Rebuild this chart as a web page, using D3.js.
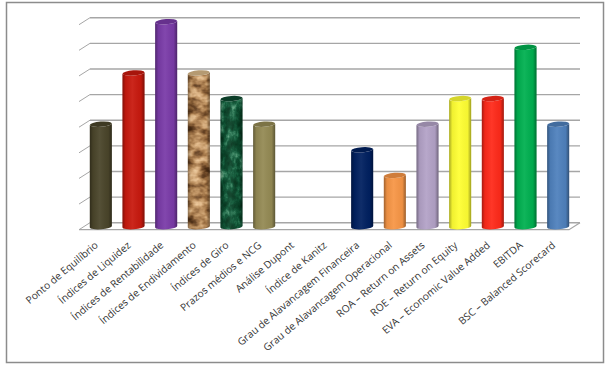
<!DOCTYPE html>
<html>
<head>
<meta charset="utf-8">
<script src="https://cdn.jsdelivr.net/npm/d3@7"></script>
<style>
    html, body { margin: 0; padding: 0; background: #fff; }
    svg { display: block; }
    text { font-family: "Open Sans", sans-serif; }
</style>
</head>
<body>
<div id="chart"></div>
<script>
var categories = ["Ponto de Equilíbrio", "Índices de Liquidez", "Índices de Rentabilidade",
    "Índices de Endividamento", "Índices de Giro", "Prazos médios e NCG", "Análise Dupont",
    "Índice de Kanitz", "Grau de Alavancagem Financeira", "Grau de Alavancagem Operacional",
    "ROA – Return on Assets", "ROE – Return on Equity", "EVA – Economic Value Added",
    "EBITDA", "BSC – Balanced Scorecard"];
var values = [4, 6, 8, 6, 5, 4, 0, 0, 3, 2, 4, 5, 5, 7, 4];
var barColors = ["#4a452a", "#c8190e", "#7a3ba8", "rock", "marble", "#948a54", "#000", "#000",
    "#002060", "#f79646", "#b3a2c7", "#ffff33", "#ff2a1a", "#00b050", "#4f81bd"];
var yTicks = [0, 1, 2, 3, 4, 5, 6, 7, 8];

var width = 609, height = 368;
var depthX = 11, depthY = 7;   // the 3d floor offset, back wall vs front edge
var left = 79, right = 569;
var barWidth = 22;

var svg = d3.select("#chart").append("svg")
    .attr("width", width)
    .attr("height", height);

var defs = svg.append("defs");

// shading across the cylinder
var shade = defs.append("linearGradient").attr("id", "shade");
shade.append("stop").attr("offset", "0%").attr("stop-color", "#000").attr("stop-opacity", 0.35);
shade.append("stop").attr("offset", "14%").attr("stop-color", "#000").attr("stop-opacity", 0.06);
shade.append("stop").attr("offset", "45%").attr("stop-color", "#fff").attr("stop-opacity", 0.06);
shade.append("stop").attr("offset", "84%").attr("stop-color", "#000").attr("stop-opacity", 0.04);
shade.append("stop").attr("offset", "100%").attr("stop-color", "#000").attr("stop-opacity", 0.38);

// rock texture
var rock = defs.append("filter").attr("id", "rock")
    .attr("color-interpolation-filters", "sRGB")
    .attr("x", 0).attr("y", 0).attr("width", 1).attr("height", 1);
rock.append("feTurbulence").attr("type", "fractalNoise").attr("baseFrequency", "0.08 0.12")
    .attr("numOctaves", 3).attr("seed", 7).attr("result", "n");
rock.append("feColorMatrix").attr("in", "n").attr("type", "matrix")
    .attr("values", "1 0 0 0 0  1 0 0 0 0  1 0 0 0 0  0 0 0 0 1").attr("result", "g");
var rockT = rock.append("feComponentTransfer").attr("in", "g").attr("result", "c");
rockT.append("feFuncR").attr("type", "table").attr("tableValues", "0.25 0.3 0.42 0.62 0.78 0.9 0.95 0.96");
rockT.append("feFuncG").attr("type", "table").attr("tableValues", "0.15 0.18 0.27 0.44 0.6 0.74 0.82 0.86");
rockT.append("feFuncB").attr("type", "table").attr("tableValues", "0.06 0.08 0.14 0.26 0.4 0.55 0.64 0.7");
rock.append("feComposite").attr("in", "c").attr("in2", "SourceAlpha").attr("operator", "in");

// marble texture
var marble = defs.append("filter").attr("id", "marble")
    .attr("color-interpolation-filters", "sRGB")
    .attr("x", 0).attr("y", 0).attr("width", 1).attr("height", 1);
marble.append("feTurbulence").attr("type", "fractalNoise").attr("baseFrequency", "0.16 0.1")
    .attr("numOctaves", 4).attr("seed", 12).attr("result", "n");
marble.append("feColorMatrix").attr("in", "n").attr("type", "matrix")
    .attr("values", "1 0 0 0 0  1 0 0 0 0  1 0 0 0 0  0 0 0 0 1").attr("result", "g");
var marbleT = marble.append("feComponentTransfer").attr("in", "g").attr("result", "c");
marbleT.append("feFuncR").attr("type", "table").attr("tableValues", "0.02 0.02 0.03 0.04 0.07 0.2 0.42 0.55");
marbleT.append("feFuncG").attr("type", "table").attr("tableValues", "0.18 0.2 0.24 0.28 0.36 0.5 0.68 0.78");
marbleT.append("feFuncB").attr("type", "table").attr("tableValues", "0.1 0.11 0.14 0.17 0.23 0.36 0.54 0.64");
marble.append("feComposite").attr("in", "c").attr("in2", "SourceAlpha").attr("operator", "in");

// outer frame
svg.append("rect")
    .attr("x", 6.5).attr("y", 2.5)
    .attr("width", 597).attr("height", 360)
    .attr("fill", "#fff")
    .attr("stroke", "#8c8c8c")
    .attr("stroke-width", 1.5);

// y scale is on the back wall
var y = d3.scaleLinear()
    .domain([0, 8])
    .range([222.7, 17.7]);

// x scale runs along the middle of the floor
var x = d3.scaleBand()
    .domain(categories)
    .range([left + 5.5, right + 5.5]);

// gridlines on the back wall
svg.append("g").selectAll("line")
    .data(yTicks)
    .enter()
    .append("line")
    .attr("x1", left + depthX)
    .attr("x2", right + depthX)
    .attr("y1", function (d) { return y(d); })
    .attr("y2", function (d) { return y(d); })
    .attr("stroke", "#a6a6a6")
    .attr("stroke-width", 1.4);

// slanted bits on the left side wall
svg.append("g").selectAll("line")
    .data(yTicks)
    .enter()
    .append("line")
    .attr("x1", left)
    .attr("x2", left + depthX)
    .attr("y1", function (d) { return y(d) + depthY; })
    .attr("y2", function (d) { return y(d); })
    .attr("stroke", "#a6a6a6")
    .attr("stroke-width", 1);

// floor front edge and right side
svg.append("path")
    .attr("d", d3.line()([[left, y(0) + depthY], [right, y(0) + depthY], [right + depthX, y(0)]]))
    .attr("fill", "none")
    .attr("stroke", "#a6a6a6")
    .attr("stroke-width", 1.2);

// cylinders
function bodyPath(d, i) {
    var cx = x(categories[i]) + x.bandwidth() / 2;
    var r = barWidth / 2;
    var top = y(d) + 4;
    var bottom = y(0) + 4;
    return "M" + (cx - r) + "," + (top + 0.8)
        + "L" + (cx - r) + "," + (bottom + 0.8)
        + "A" + r + ",2.6 -4 0 0 " + (cx + r) + "," + (bottom - 0.8)
        + "L" + (cx + r) + "," + (top - 0.8)
        + "A" + r + ",2.6 -4 0 1 " + (cx - r) + "," + (top + 0.8) + "Z";
}

var indexed = values.map(function (d, i) { return { v: d, i: i }; })
    .filter(function (d) { return d.v > 0; });

var barG = svg.append("g").selectAll("g")
    .data(indexed)
    .enter()
    .append("g");

barG.append("path")
    .attr("d", function (d) { return bodyPath(d.v, d.i); })
    .attr("fill", function (d) {
        var c = barColors[d.i];
        return (c == "rock" || c == "marble") ? "#000" : c;
    })
    .attr("filter", function (d) {
        var c = barColors[d.i];
        return (c == "rock" || c == "marble") ? "url(#" + c + ")" : null;
    });

barG.append("path")
    .attr("d", function (d) { return bodyPath(d.v, d.i); })
    .attr("fill", "url(#shade)");

// top cap, darker than the body
barG.append("ellipse")
    .attr("cx", 0)
    .attr("cy", 0)
    .attr("rx", barWidth / 2)
    .attr("ry", 2.6)
    .attr("transform", function (d) {
        return "translate(" + (x(categories[d.i]) + x.bandwidth() / 2) + "," + (y(d.v) + 4) + ") rotate(-4)";
    })
    .attr("fill", function (d) {
        var c = barColors[d.i];
        if (c == "rock") return "#b59a72";
        if (c == "marble") return "#0c3d28";
        return d3.color(c).darker(0.5);
    });

// category labels
var xAxis = svg.append("g")
    .attr("transform", "translate(0," + (y(0) + depthY + 9) + ")")
    .call(d3.axisBottom(x).tickSize(0).tickPadding(0));

xAxis.select(".domain").remove();

xAxis.selectAll("text")
    .attr("text-anchor", "end")
    .attr("font-size", "10.2px")
    .attr("fill", "#333")
    .attr("dy", "0.6em")
    .attr("transform", "translate(-6,3) rotate(-40)");
</script>
</body>
</html>
